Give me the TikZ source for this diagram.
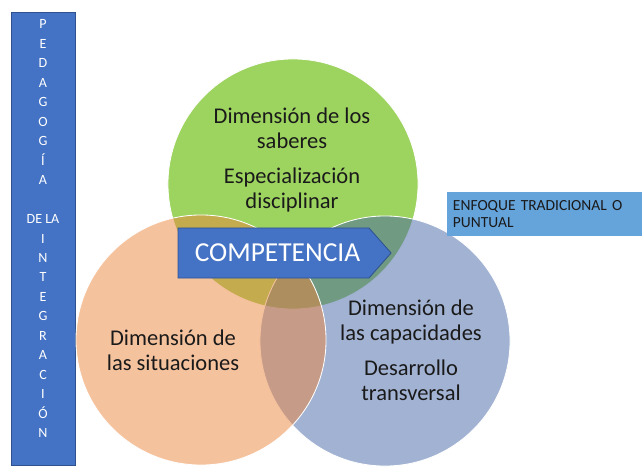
\documentclass[tikz,border=0pt]{standalone}
\usepackage{fontspec}
\setmainfont{Carlito}
\usepackage{xcolor}
\usepackage{tikz}
\usetikzlibrary{positioning, shapes.symbols}

\definecolor{barblue}{HTML}{4472C4}
\definecolor{barline}{HTML}{2F528F}
\definecolor{saberes}{HTML}{9DD35F}
\definecolor{capacid}{HTML}{4565A5}
\definecolor{situac}{HTML}{EB853D}
\definecolor{enfoque}{HTML}{65A3DB}
\definecolor{ink}{HTML}{1A1A1A}

\tikzset{
  venn/.style={circle, minimum size=6.25cm, inner sep=0pt, draw=white, line width=0.6pt},
  venntext/.style={align=center, text=ink, font=\fontsize{16pt}{17.8pt}\selectfont},
  bartext/.style={align=center, text=white, inner sep=0pt, font=\fontsize{10pt}{13.85pt}\selectfont},
}

\begin{document}
\begin{tikzpicture}[x=0.025cm, y=-0.025cm]
\useasboundingbox (0,0) rectangle (642,466);
% left bar
\node[rectangle, fill=barblue, draw=barline, line width=0.3pt, minimum width=1.6cm, minimum height=11.325cm, inner sep=0pt] (bar) at (43,238.5) {};
\node[bartext, anchor=north] (barlbl) at (43,19.5) {P\\E\\D\\A\\G\\O\\G\\Í\\A\\[13.85pt]DE LA\\I\\N\\T\\E\\G\\R\\A\\C\\I\\Ó\\N};
% the three circles
\node[venn, fill=saberes] (sab) at (293,184) {};
\node[venn, fill=capacid, fill opacity=0.5] (cap) at (385,341) {};
\node[venn, fill=situac, fill opacity=0.5] (sit) at (201,340) {};
\node[venntext] (sabtxt) at (292,160) {Dimensión de los\\saberes\\[7pt]Especialización\\disciplinar};
\node[venntext] (captxt) at (411,350) {Dimensión de\\las capacidades\\[7pt]Desarrollo\\transversal};
\node[venntext] (sittxt) at (173,350) {Dimensión de\\las situaciones};
% arrow
\node[signal, signal to=east, signal pointer angle=97, fill=barblue, draw=barline, line width=0.6pt,
      minimum width=5.325cm, minimum height=1.25cm, inner sep=0pt] (comp) at (273.5,253) {};
\node[text=white, font=\fontsize{19.5pt}{22pt}\selectfont] (comptxt) at (277.5,253) {COMPETENCIA};
% label box
\node[rectangle, fill=enfoque, minimum height=1.1cm, text width=4.575cm, inner xsep=0.15cm, align=left,
      text=ink, font=\fontsize{11pt}{12.1pt}\selectfont] (enf) at (544.5,214) {ENFOQUE TRADICIONAL O\\PUNTUAL};
\end{tikzpicture}
\end{document}
